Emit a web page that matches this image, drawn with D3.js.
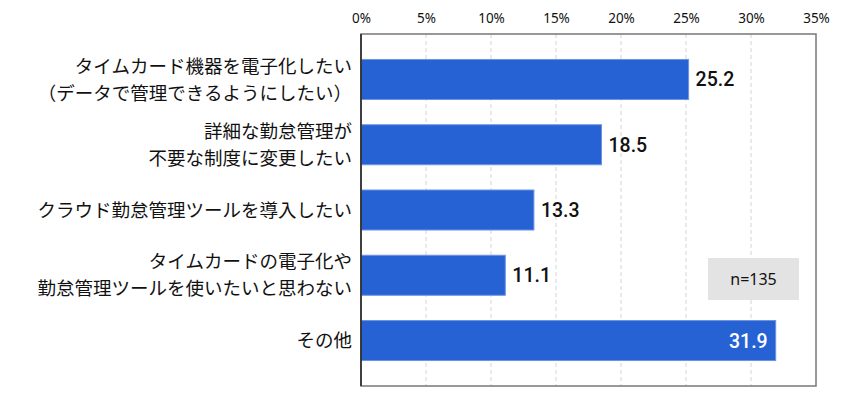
<!DOCTYPE html>
<html>
<head>
<meta charset="utf-8">
<script src="https://cdn.jsdelivr.net/npm/d3@7"></script>
<style>
  body { margin: 0; background: #fff; }
  svg { display: block; }
</style>
</head>
<body>
<div id="chart"></div>
<script>
// chart data
const categories = [
    ['タイムカード機器を電子化したい', '（データで管理できるようにしたい）'],
    ['詳細な勤怠管理が', '不要な制度に変更したい'],
    ['クラウド勤怠管理ツールを導入したい'],
    ['タイムカードの電子化や', '勤怠管理ツールを使いたいと思わない'],
    ['その他']
];
const values = [25.2, 18.5, 13.3, 11.1, 31.9];
const tickValues = [0, 5, 10, 15, 20, 25, 30, 35];
const sampleLabel = 'n=135';

const width = 843;
const height = 407;
const plot = { left: 361, right: 816, top: 34, bottom: 386 };

const svg = d3.select('#chart').append('svg')
    .attr('width', width)
    .attr('height', height);

const x = d3.scaleLinear()
    .domain([0, 35])
    .range([plot.left, plot.right]);

const y = d3.scaleBand()
    .domain(d3.range(categories.length))
    .range([plot.top, plot.bottom])
    .paddingInner(0.387)
    .paddingOuter(0.39);

// grid lines
svg.append('g')
    .selectAll('line')
    .data(tickValues.slice(1, -1))
    .enter().append('line')
    .attr('x1', d => x(d))
    .attr('x2', d => x(d))
    .attr('y1', plot.top)
    .attr('y2', plot.bottom)
    .attr('stroke', '#d4d4d4')
    .attr('stroke-width', 1)
    .attr('stroke-dasharray', '4,3');

// top axis labels
const xAxis = d3.axisTop(x)
    .tickValues(tickValues)
    .tickSize(0)
    .tickPadding(0)
    .tickFormat(d => d + '%');

svg.append('g')
    .attr('transform', 'translate(0, 23)')
    .call(xAxis)
    .call(g => g.select('.domain').remove())
    .selectAll('text')
    .attr('font-family', '"Noto Sans", sans-serif')
    .attr('font-size', 13.5)
    .attr('fill', '#111');

// n= box
svg.append('rect')
    .attr('x', 708)
    .attr('y', 258)
    .attr('width', 91)
    .attr('height', 42)
    .attr('fill', '#e3e3e3');

svg.append('text')
    .attr('x', 753.5)
    .attr('y', 279)
    .attr('dy', '0.35em')
    .attr('text-anchor', 'middle')
    .attr('font-family', '"Noto Sans", sans-serif')
    .attr('font-size', 16)
    .attr('fill', '#111')
    .text(sampleLabel);

// bars
svg.append('g')
    .selectAll('rect')
    .data(values)
    .enter().append('rect')
    .attr('x', x(0))
    .attr('y', (d, i) => y(i))
    .attr('width', d => x(d) - x(0))
    .attr('height', y.bandwidth())
    .attr('fill', '#2762d5')
    .attr('stroke', '#6d93e2')
    .attr('stroke-width', 1);

// value labels
svg.append('g')
    .selectAll('text')
    .data(values)
    .enter().append('text')
    .attr('x', d => d > 30 ? x(d) - 8 : x(d) + 7)
    .attr('y', (d, i) => y(i) + y.bandwidth() / 2)
    .attr('dy', '0.36em')
    .attr('text-anchor', d => d > 30 ? 'end' : 'start')
    .attr('font-family', 'Roboto, sans-serif')
    .attr('font-weight', 500)
    .attr('font-size', 19.5)
    .attr('fill', d => d > 30 ? '#fff' : '#111')
    .text(d => d.toFixed(1));

// category labels
const labelGroup = svg.append('g');
categories.forEach((lines, i) => {
    const cy = y(i) + y.bandwidth() / 2;
    const lineHeight = 27;
    const start = cy - (lines.length - 1) * lineHeight / 2;
    lines.forEach((line, j) => {
        labelGroup.append('text')
            .attr('x', 352)
            .attr('y', start + j * lineHeight)
            .attr('dy', '0.36em')
            .attr('text-anchor', 'end')
            .attr('font-family', '"Noto Sans CJK JP", sans-serif')
            .attr('font-size', 18.5)
            .attr('fill', '#111')
            .text(line);
    });
});

// plot frame
svg.append('rect')
    .attr('x', plot.left)
    .attr('y', plot.top)
    .attr('width', plot.right - plot.left)
    .attr('height', plot.bottom - plot.top)
    .attr('fill', 'none')
    .attr('stroke', '#777')
    .attr('stroke-width', 1.5);

svg.append('line')
    .attr('x1', plot.left)
    .attr('x2', plot.left)
    .attr('y1', plot.top)
    .attr('y2', plot.bottom)
    .attr('stroke', '#222')
    .attr('stroke-width', 1.5);
</script>
</body>
</html>
